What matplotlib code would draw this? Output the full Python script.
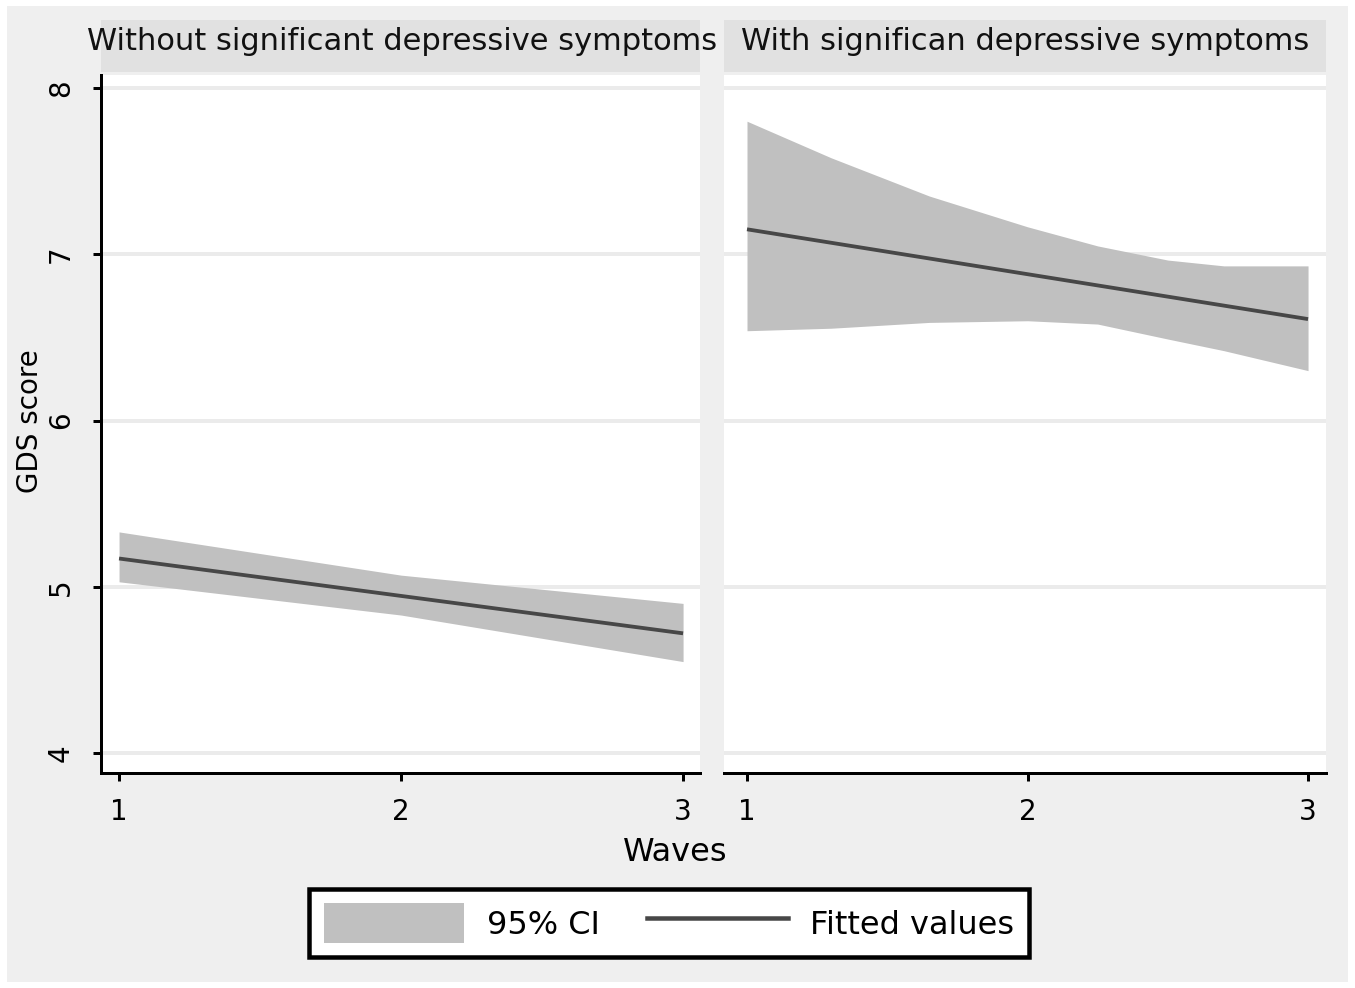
import matplotlib
matplotlib.use("Agg")
import matplotlib.pyplot as plt
from matplotlib.patches import Rectangle, Patch
from matplotlib.lines import Line2D

# ---- data ----
panel_titles = ["Without significant depressive symptoms", "With significan depressive symptoms"]
wave_ticks = [1, 2, 3]
gds_ticks = [4, 5, 6, 7, 8]

# Left panel (without significant depressive symptoms)
left_ci_waves = [1, 2, 3]
left_ci_upper = [5.33, 5.07, 4.90]
left_ci_lower = [5.03, 4.83, 4.55]
left_fit_waves = [1, 3]
left_fit = [5.17, 4.72]

# Right panel (with significant depressive symptoms)
right_ci_waves = [1, 1.3, 1.65, 2, 2.25, 2.5, 2.7, 3]
right_ci_upper = [7.80, 7.58, 7.35, 7.165, 7.05, 6.965, 6.93, 6.93]
right_ci_lower = [6.54, 6.555, 6.59, 6.60, 6.58, 6.49, 6.42, 6.30]
right_fit_waves = [1, 3]
right_fit = [7.15, 6.61]

legend_labels = ["95% CI", "Fitted values"]

# ---- style ----
W, H = 1355, 988
BG = "#efefef"
STRIP = "#e1e1e1"
CI_COLOR = "#c0c0c0"
LINE_COLOR = "#474747"
GRID = "#ebebeb"
PX = 72 / 100  # points per pixel

fig = plt.figure(figsize=(W / 100, H / 100), dpi=100)
fig.patch.set_facecolor("white")
fig.add_artist(Rectangle((7 / W, 6 / H), 1341 / W, 976 / H, transform=fig.transFigure,
                         fc=BG, ec="none", zorder=-10))

def make_axes(x0, x1):
    return fig.add_axes([x0 / W, 1 - 773 / H, (x1 - x0) / W, 698 / H])

axL = make_axes(101, 700)
axR = make_axes(724, 1326)

panels = [
    (axL, left_ci_waves, left_ci_lower, left_ci_upper, left_fit_waves, left_fit, (0.936, 3.060), 101, 700),
    (axR, right_ci_waves, right_ci_lower, right_ci_upper, right_fit_waves, right_fit, (0.918, 3.064), 724, 1326),
]

for i, (ax, cw, lo, up, fw, fv, xl, x0, x1) in enumerate(panels):
    ax.set_facecolor("white")
    for t in gds_ticks:
        ax.axhline(t, color=GRID, lw=4 * PX, zorder=0)
    ax.fill_between(cw, lo, up, color=CI_COLOR, lw=0, zorder=2)
    ax.plot(fw, fv, color=LINE_COLOR, lw=3.8 * PX, zorder=3, solid_capstyle="butt")
    ax.set_xlim(*xl)
    ax.set_ylim(3.88, 8.078)
    ax.set_xticks(wave_ticks)
    ax.set_xticklabels([str(t) for t in wave_ticks], fontsize=20)
    ax.tick_params(axis="x", length=8 * PX, width=3 * PX, pad=12, color="black")
    for s in ["top", "right"]:
        ax.spines[s].set_visible(False)
    ax.spines["bottom"].set_linewidth(3 * PX)
    if i == 0:
        ax.spines["left"].set_linewidth(3 * PX)
        ax.set_yticks(gds_ticks)
        ax.set_yticklabels([str(t) for t in gds_ticks], fontsize=20, rotation=90, va="center")
        ax.tick_params(axis="y", length=8 * PX, width=3 * PX, pad=13)
    else:
        ax.spines["left"].set_visible(False)
        ax.set_yticks([])
    # strip header
    fig.add_artist(Rectangle((x0 / W, 1 - 72 / H), (x1 - x0) / W, 52 / H,
                             transform=fig.transFigure, fc=STRIP, ec="none", zorder=-5))
    fig.text((x0 + x1) / 2 / W + (2 / W if i == 0 else 0), 1 - 42 / H, panel_titles[i],
             ha="center", va="center", fontsize=22, color="#111111")

fig.text(30 / W, 1 - 421 / H, "GDS score", rotation=90, ha="center", va="center", fontsize=20)
fig.text(675 / W, 1 - 852 / H, "Waves", ha="center", va="center", fontsize=23)

handles = [Patch(facecolor=CI_COLOR, edgecolor="none"),
           Line2D([0], [0], color=LINE_COLOR, lw=4.5 * PX)]
leg = fig.legend(handles, legend_labels, loc="center", bbox_to_anchor=(669 / W, 1 - 923 / H),
                 ncol=2, fontsize=23, frameon=True, fancybox=False, edgecolor="black",
                 framealpha=1.0, handlelength=4.4, handleheight=1.55, handletextpad=0.7,
                 columnspacing=1.5, borderpad=0.45, borderaxespad=0)
leg.get_frame().set_linewidth(4.5 * PX)
leg.get_frame().set_facecolor("white")

fig.savefig("out.png", dpi=100, facecolor=fig.get_facecolor())
